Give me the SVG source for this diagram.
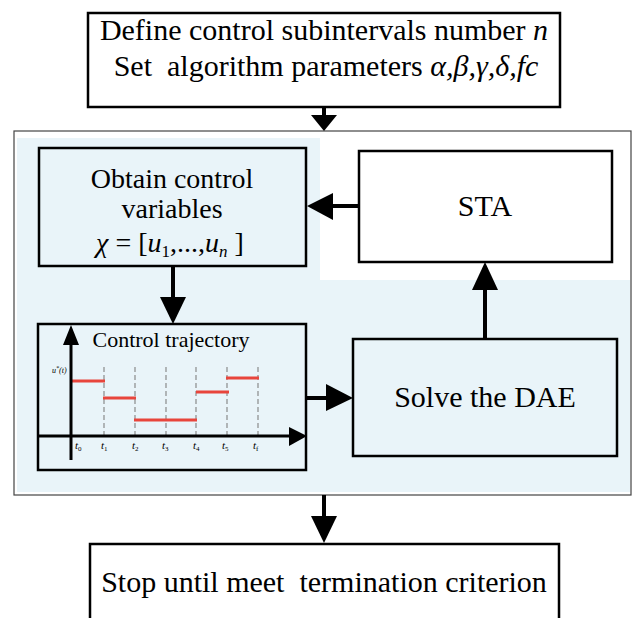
<svg xmlns="http://www.w3.org/2000/svg" width="633" height="618" viewBox="0 0 633 618">
<style>
text{font-family:"Liberation Serif","Times New Roman",serif;fill:#000;}
.t30{font-size:30px;text-anchor:middle;}
.t28{font-size:28px;text-anchor:middle;}
.box{fill:none;stroke:#000;stroke-width:2.5;}
.shaft{stroke:#000;stroke-width:4;fill:none;}
.head{fill:#000;stroke:none;}
.dash{stroke:#8a8a8a;stroke-width:1.2;stroke-dasharray:5 3;}
.red{stroke:#e8453c;stroke-width:3;}
.tl{font-size:11px;font-style:italic;}
.sub{font-size:7px;font-style:normal;}
</style>
<rect width="633" height="618" fill="#fff"/>
<g id="frame">
<rect x="14" y="131" width="617" height="364" fill="#fff" stroke="#444" stroke-width="1.2"/>
<path d="M17,138 H320 V280 H630 V492 H17 Z" fill="#e9f4f9"/>
</g>
<g id="connectors">
<line class="shaft" x1="324" y1="107" x2="324" y2="116"/>
<polygon class="head" points="311,115 337,115 324,131"/>
<line class="shaft" x1="359" y1="206" x2="332" y2="206"/>
<polygon class="head" points="333,193 333,220 307,206"/>
<line class="shaft" x1="173" y1="266" x2="173" y2="298"/>
<polygon class="head" points="160,297 186,297 173,324"/>
<line class="shaft" x1="306" y1="398" x2="327" y2="398"/>
<polygon class="head" points="326,384 326,411 353,398"/>
<line class="shaft" x1="485" y1="339" x2="485" y2="289"/>
<polygon class="head" points="472,290 498,290 485,262"/>
<line class="shaft" x1="324" y1="495" x2="324" y2="517"/>
<polygon class="head" points="311,516 337,516 324,543"/>
</g>
<g id="init">
<rect class="box" x="88" y="13" width="472" height="94" fill="#fff"/>
<text class="t30" x="324" y="40" xml:space="preserve">Define control subintervals number <tspan font-style="italic">n</tspan></text>
<text class="t30" x="326" y="76" xml:space="preserve">Set  algorithm parameters <tspan font-style="italic">α,β,γ,δ,fc</tspan></text>
</g>
<g id="obtain">
<rect class="box" x="39" y="148" width="267" height="118"/>
<text class="t28" x="172" y="188">Obtain control</text>
<text class="t28" x="172" y="218">variables</text>
<text class="t28" x="170" y="252"><tspan font-style="italic">χ</tspan> = [<tspan font-style="italic">u</tspan><tspan font-size="17" dy="5">1</tspan><tspan dy="-5">,...,</tspan><tspan font-style="italic">u</tspan><tspan font-size="17" font-style="italic" dy="5">n</tspan><tspan dy="-5"> ]</tspan></text>
</g>
<g id="sta">
<rect class="box" x="359" y="151" width="253" height="111" fill="#fff"/>
<text class="t30" x="485" y="216">STA</text>
</g>
<g id="trajectory">
<rect class="box" x="38" y="324" width="268" height="146"/>
<text x="171" y="347" font-size="22" text-anchor="middle">Control trajectory</text>
<line class="dash" x1="104" y1="367" x2="104" y2="436"/>
<line class="dash" x1="135" y1="367" x2="135" y2="436"/>
<line class="dash" x1="166" y1="367" x2="166" y2="436"/>
<line class="dash" x1="196" y1="367" x2="196" y2="436"/>
<line class="dash" x1="227" y1="367" x2="227" y2="436"/>
<line class="dash" x1="258" y1="367" x2="258" y2="436"/>
<line class="red" x1="72" y1="381" x2="105" y2="381"/>
<line class="red" x1="103" y1="398" x2="136" y2="398"/>
<line class="red" x1="134" y1="420" x2="197" y2="420"/>
<line class="red" x1="196" y1="392" x2="229" y2="392"/>
<line class="red" x1="226" y1="378" x2="259" y2="378"/>
<line stroke="#000" stroke-width="3" x1="71" y1="460" x2="71" y2="343"/>
<polygon class="head" points="63,345 79,345 71,325"/>
<line stroke="#000" stroke-width="3" x1="38" y1="436" x2="291" y2="436"/>
<polygon class="head" points="289,427 289,446 307,436"/>
<text x="52" y="373" font-size="8" font-style="italic">u<tspan font-size="6" dy="-3">*</tspan><tspan dy="3">(t)</tspan></text>
<text class="tl" x="75" y="449">t<tspan class="sub" dy="2">0</tspan></text>
<text class="tl" x="101" y="449">t<tspan class="sub" dy="2">1</tspan></text>
<text class="tl" x="132" y="449">t<tspan class="sub" dy="2">2</tspan></text>
<text class="tl" x="162" y="449">t<tspan class="sub" dy="2">3</tspan></text>
<text class="tl" x="193" y="449">t<tspan class="sub" dy="2">4</tspan></text>
<text class="tl" x="222" y="449">t<tspan class="sub" dy="2">5</tspan></text>
<text class="tl" x="253" y="449">t<tspan class="sub" font-style="italic" dy="2">f</tspan></text>
</g>
<g id="solve">
<rect class="box" x="353" y="339" width="264" height="117"/>
<text class="t30" x="485" y="407">Solve the DAE</text>
</g>
<g id="stop">
<rect class="box" x="90" y="544" width="469" height="100" fill="#fff"/>
<text class="t30" x="324" y="592" xml:space="preserve">Stop until meet  termination criterion</text>
</g>
</svg>
